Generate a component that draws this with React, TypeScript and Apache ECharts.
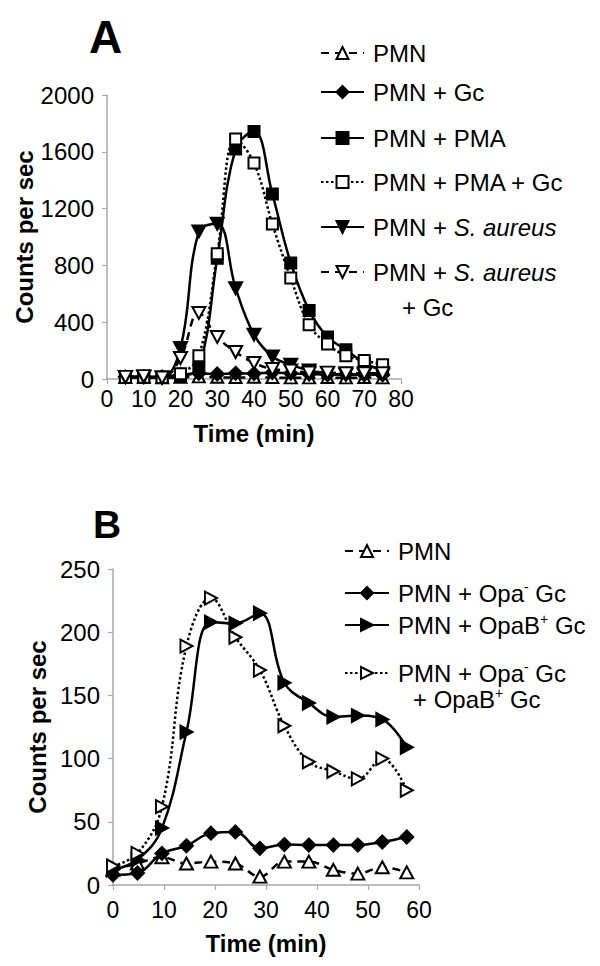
import React, { useEffect, useRef } from 'react';
import * as echarts from 'echarts';

// ---------- Data ----------
const timeA = [5, 10, 15, 20, 25, 30, 35, 40, 45, 50, 55, 60, 65, 70, 75];
const pmnA = [10, 12, 8, 12, 15, 12, 10, 12, 10, 8, 8, 10, 8, 10, 8];
const pmnGcA = [15, 15, 15, 30, 40, 35, 40, 38, 45, 40, 35, 30, 35, 30, 30];
const pmaA = [10, 10, 10, 20, 80, 850, 1620, 1743, 1302, 817, 483, 296, 206, 113, 60];
const pmaGcA = [10, 12, 10, 37, 164, 882, 1690, 1521, 1091, 711, 382, 246, 164, 131, 101];
const saA = [15, 15, 10, 218, 1039, 1093, 640, 312, 159, 101, 60, 40, 30, 30, 30];
const saGcA = [15, 20, 10, 148, 465, 296, 190, 113, 70, 60, 45, 45, 40, 40, 40];

const timeB = [0, 4.8, 9.6, 14.4, 19.2, 24, 28.8, 33.6, 38.4, 43.2, 48, 52.8, 57.6];
const pmnB = [12, 17, 22, 17, 18.5, 17, 6.6, 18.5, 18.5, 12, 9, 14, 10];
const opaNegB = [8, 9.5, 25, 31, 41, 42, 29, 32, 31.6, 31.6, 31.6, 34, 38];
const opaBPosB = [12, 20, 45, 121, 208, 207, 215, 160, 144, 133, 134, 131, 109];
const mixB = [15, 25, 62, 189, 227, 196, 170, 126, 97.5, 90, 84, 100, 75];

const yTicksA = { min: 0, max: 2000, interval: 400 };
const xTicksA = { min: 0, max: 80, interval: 10 };
const yTicksB = { min: 0, max: 250, interval: 50 };
const xTicksB = { min: 0, max: 60, interval: 10 };

const namesA = ['PMN', 'PMN + Gc', 'PMN + PMA', 'PMN + PMA + Gc', 'PMN + S. aureus', 'PMN + S. aureus + Gc'];
const namesB = ['PMN ', 'PMN + Opa- Gc', 'PMN + OpaB+ Gc', 'PMN + Opa- Gc + OpaB+ Gc'];

// ---------- Styling ----------
const FONT = '"Liberation Sans", Arial, Helvetica, sans-serif';
const AXIS_GREY = '#a8a8a8';
const DOWN_TRI = 'path://M0,0L10,0L5,9Z';
const RIGHT_TRI = 'path://M0,0L9,5L0,10Z';

const legendText: Record<string, string> = {
  'PMN': 'PMN',
  'PMN + Gc': 'PMN + Gc',
  'PMN + PMA': 'PMN + PMA',
  'PMN + PMA + Gc': 'PMN + PMA + Gc',
  'PMN + S. aureus': '{n|PMN + }{i|S. aureus}',
  'PMN + S. aureus + Gc': '{n|PMN + }{i|S. aureus}',
  'PMN ': 'PMN',
  'PMN + Opa- Gc': '{n|PMN + Opa}{sup|-}{n| Gc}',
  'PMN + OpaB+ Gc': '{n|PMN + OpaB}{sup|+}{n| Gc}',
  'PMN + Opa- Gc + OpaB+ Gc': '{n|PMN + Opa}{sup|-}{n| Gc}',
};

const rich = {
  n: { fontSize: 24, fontFamily: FONT, color: '#000' },
  i: { fontSize: 24, fontFamily: FONT, color: '#000', fontStyle: 'italic' },
  sup: { fontSize: 14, fontFamily: FONT, color: '#000', padding: [0, 0, 12, 0] },
};

function pairs(xs: number[], ys: number[]) {
  return xs.map((x, i) => [x, ys[i]]);
}

function lineSeries(name: string, xs: number[], ys: number[], idx: number, symbol: string, size: any, filled: boolean, type: any) {
  return {
    type: 'line',
    name,
    xAxisIndex: idx,
    yAxisIndex: idx,
    data: pairs(xs, ys),
    smooth: 0.4,
    symbol,
    symbolSize: size,
    showAllSymbol: true,
    color: '#000',
    itemStyle: { color: filled ? '#000' : '#fff', borderColor: '#000', borderWidth: 2 },
    lineStyle: { color: '#000', width: 2.5, type },
    emphasis: { disabled: true },
    z: 2,
  };
}

function axisCommon(extra: any) {
  return {
    type: 'value',
    axisLine: { show: true, lineStyle: { color: AXIS_GREY, width: 1.5 } },
    axisTick: { show: true, length: 5, lineStyle: { color: AXIS_GREY, width: 1.2 } },
    splitLine: { show: false },
    nameLocation: 'middle',
    nameTextStyle: { fontSize: 24, fontWeight: 'bold', color: '#000', fontFamily: FONT },
    ...extra,
  };
}

function legendRow(name: string, left: number, top: number, iw: number) {
  return {
    data: [name],
    left,
    top,
    orient: 'horizontal',
    itemWidth: iw,
    itemHeight: 15,
    itemGap: 0,
    padding: 0,
    selectedMode: false,
    formatter: (n: string) => legendText[n] ?? n,
    textStyle: { fontSize: 24, color: '#000', fontFamily: FONT, padding: [0, 0, 0, 4], rich },
  };
}

const plain = (v: number) => String(v);

export default function App() {
  const ref = useRef<HTMLDivElement>(null);
  useEffect(() => {
    if (!ref.current) return;
    const chart = echarts.init(ref.current, undefined, { renderer: 'svg' });
    const option: any = {
      animation: false,
      backgroundColor: '#fff',
      textStyle: { fontFamily: FONT },
      grid: [
        { left: 107, top: 95, width: 294, height: 284 },
        { left: 113, top: 569, width: 306, height: 316 },
      ],
      xAxis: [
        axisCommon({
          gridIndex: 0, ...xTicksA,
          axisLabel: { fontSize: 23, color: '#000', margin: 8, fontFamily: FONT, formatter: plain },
          name: 'Time (min)', nameGap: 42,
        }),
        axisCommon({
          gridIndex: 1, ...xTicksB,
          axisLabel: { fontSize: 23, color: '#000', margin: 13, fontFamily: FONT, formatter: plain },
          name: 'Time (min)', nameGap: 46,
        }),
      ],
      yAxis: [
        axisCommon({
          gridIndex: 0, ...yTicksA,
          axisLabel: { fontSize: 24, color: '#000', margin: 13, fontFamily: FONT, formatter: plain },
          name: 'Counts per sec', nameGap: 69,
        }),
        axisCommon({
          gridIndex: 1, ...yTicksB,
          axisLabel: { fontSize: 24, color: '#000', margin: 13, fontFamily: FONT, formatter: plain },
          name: 'Counts per sec', nameGap: 60,
        }),
      ],
      legend: [
        legendRow(namesA[0], 320, 41, 43),
        legendRow(namesA[1], 320, 80, 43),
        legendRow(namesA[2], 320, 126, 43),
        legendRow(namesA[3], 320, 170, 43),
        legendRow(namesA[4], 320, 215, 43),
        legendRow(namesA[5], 320, 260, 43),
        legendRow(namesB[0], 344, 539, 44),
        legendRow(namesB[1], 344, 580, 44),
        legendRow(namesB[2], 344, 612, 44),
        legendRow(namesB[3], 344, 660, 44),
      ],
      graphic: [
        { type: 'text', left: 89, top: 14, style: { text: 'A', fontSize: 46, fontWeight: 'bold', fill: '#000', fontFamily: FONT } },
        { type: 'text', left: 93, top: 505, style: { text: 'B', fontSize: 39, fontWeight: 'bold', fill: '#000', fontFamily: FONT } },
        { type: 'text', left: 402, top: 295, style: { text: '+ Gc', fontSize: 24, fill: '#000', fontFamily: FONT } },
        {
          type: 'text', left: 413, top: 686,
          style: { text: '{n|+ OpaB}{sup|+}{n| Gc}', rich, fontSize: 24, fill: '#000', fontFamily: FONT },
        },
      ],
      series: [
        lineSeries(namesA[0], timeA, pmnA, 0, 'triangle', [12, 11], false, [8, 6]),
        lineSeries(namesA[1], timeA, pmnGcA, 0, 'diamond', [13, 13], true, 'solid'),
        lineSeries(namesA[2], timeA, pmaA, 0, 'rect', [11, 11], true, 'solid'),
        lineSeries(namesA[3], timeA, pmaGcA, 0, 'rect', [11, 11], false, [2.5, 2.5]),
        lineSeries(namesA[4], timeA, saA, 0, DOWN_TRI, [13, 12], true, 'solid'),
        lineSeries(namesA[5], timeA, saGcA, 0, DOWN_TRI, [13, 12], false, [8, 6]),
        lineSeries(namesB[0], timeB, pmnB, 1, 'triangle', [13, 12], false, [8, 6]),
        lineSeries(namesB[1], timeB, opaNegB, 1, 'diamond', [13, 13], true, 'solid'),
        lineSeries(namesB[2], timeB, opaBPosB, 1, RIGHT_TRI, [12, 13], true, 'solid'),
        lineSeries(namesB[3], timeB, mixB, 1, RIGHT_TRI, [12, 13], false, [2.5, 2.5]),
      ],
    };
    chart.setOption(option);
    return () => chart.dispose();
  }, []);
  return <div ref={ref} style={{ position: 'absolute', left: 0, top: 0, width: 600, height: 966 }} />;
}
